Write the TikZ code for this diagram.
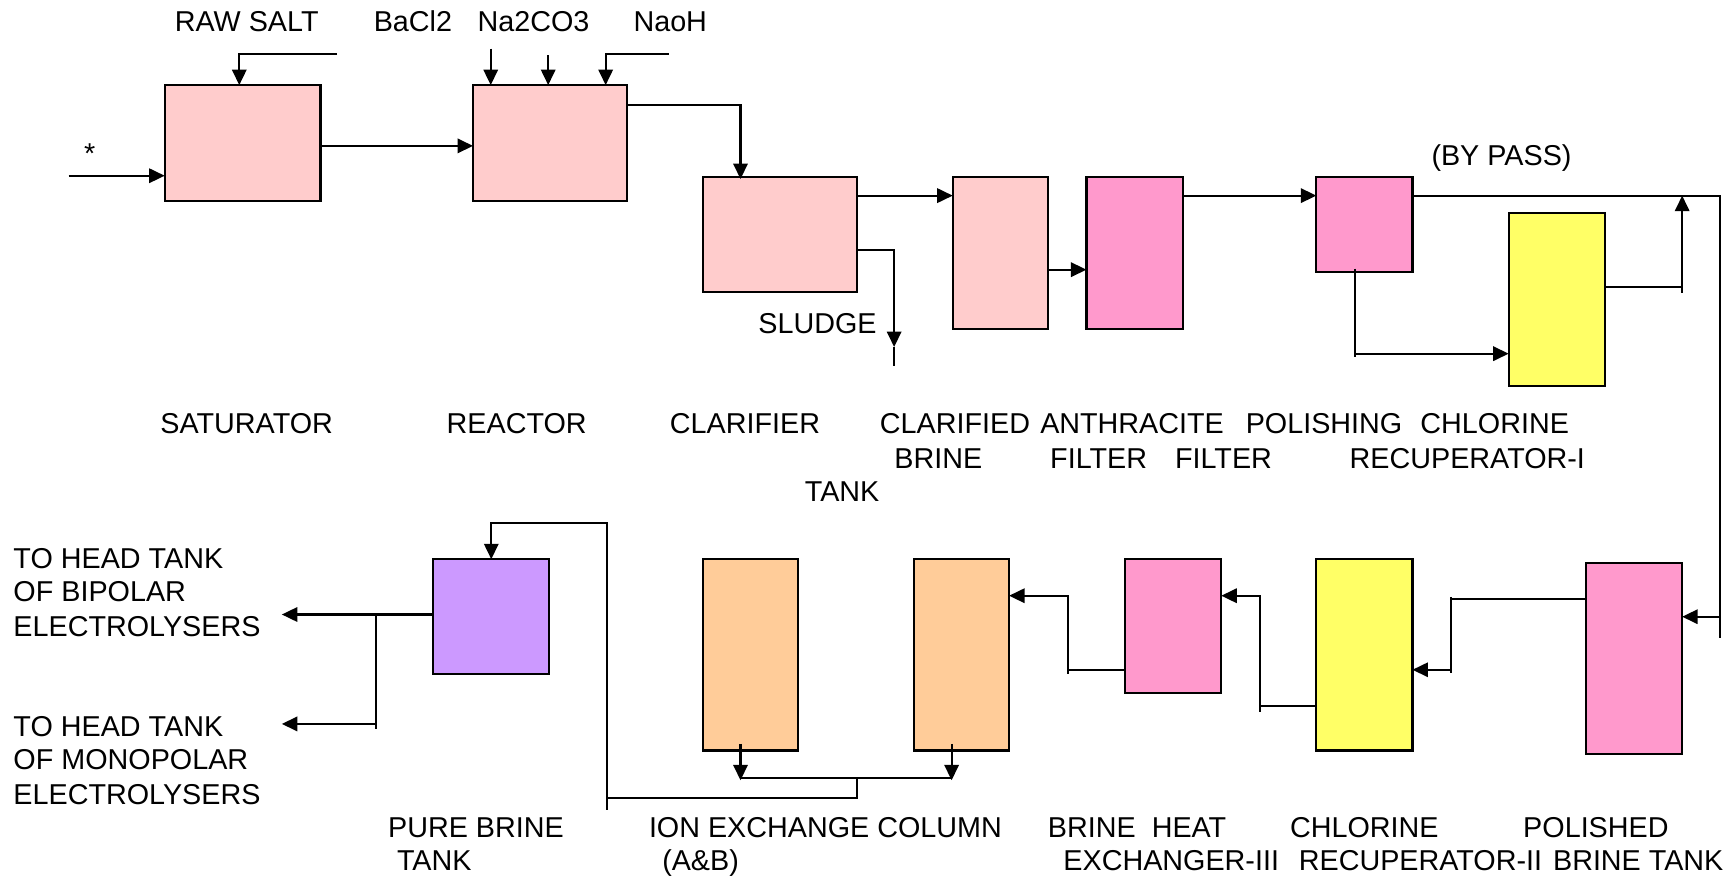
\documentclass[tikz,border=0pt]{standalone}
\usepackage{fontspec}
\setmainfont{Liberation Sans}
\usetikzlibrary{arrows.meta}
\definecolor{lpink}{HTML}{FFCCCC}
\definecolor{dpink}{HTML}{FF99CC}
\definecolor{yel}{HTML}{FFFF66}
\definecolor{vio}{HTML}{CC99FF}
\definecolor{ora}{HTML}{FFCC99}
\begin{document}
\begin{tikzpicture}[x=1pt,y=-1pt,
  box/.style={draw=black, line width=1.9pt, inner sep=0pt, outer sep=0pt, anchor=north west, rectangle},
  lbl/.style={font=\fontsize{26}{31}\selectfont, inner sep=0pt, anchor=base west},
  pipe/.style={draw=black, line width=1.9pt},
  arr/.style={pipe, -{Triangle[length=14pt,width=13pt]}}]
\useasboundingbox (0,0) rectangle (1568,794);
% boxes
\node[box, fill=lpink, minimum width=141pt, minimum height=105pt] (sat) at (149,77) {};
\node[box, fill=lpink, minimum width=139pt, minimum height=105pt] (react) at (428,77) {};
\node[box, fill=lpink, minimum width=139pt, minimum height=104pt] (clar) at (636,160) {};
\node[box, fill=lpink, minimum width=86pt, minimum height=138pt] (cbt) at (862,160) {};
\node[box, fill=dpink, minimum width=87pt, minimum height=138pt] (anth) at (983,160) {};
\node[box, fill=dpink, minimum width=87pt, minimum height=86pt] (pol) at (1191,160) {};
\node[box, fill=yel, minimum width=87pt, minimum height=156pt] (cr1) at (1365,193) {};
\node[box, fill=vio, minimum width=105pt, minimum height=104pt] (pbt) at (392,506) {};
\node[box, fill=ora, minimum width=86pt, minimum height=173pt] (ixa) at (636,506) {};
\node[box, fill=ora, minimum width=86pt, minimum height=173pt] (ixb) at (827,506) {};
\node[box, fill=dpink, minimum width=87pt, minimum height=121pt] (bhe) at (1018,506) {};
\node[box, fill=yel, minimum width=87pt, minimum height=173pt] (cr2) at (1191,506) {};
\node[box, fill=dpink, minimum width=87pt, minimum height=173pt] (pbk) at (1435,509) {};
% free-end coordinates
\coordinate (in) at (62,159);
\coordinate (rs) at (305,49);
\coordinate (ba) at (444,44);
\coordinate (na) at (496,50);
\coordinate (nh) at (605,49);
\coordinate (slA) at (809,314);
\coordinate (slB) at (809,331);
\coordinate (bpc) at (1556,177);
\coordinate (bpe) at (1556,577);
\coordinate (j1) at (1522,177);
\coordinate (mono) at (255,655);
\coordinate (bip) at (255,556);
% top row connectors
\draw[arr] (in) -- (in -| sat.west);
\draw[arr] (rs) -| ([xshift=-3pt]sat.north);
\draw[arr] (sat.east |- 0,132) -- (react.west |- 0,132);
\draw[arr] (ba) -- (ba |- react.north);
\draw[arr] (na) -- (na |- react.north);
\draw[arr] (nh) -| ([xshift=-19pt]react.north east);
\draw[arr] (react.east |- 0,95) -| ([xshift=34pt,yshift=-2pt]clar.north west);
\draw[arr] (clar.east |- 0,177) -- (cbt.west |- 0,177);
\draw[arr] (clar.east |- 0,226) -| (slA);
\draw[pipe] (slA) -- (slB);
\draw[arr] (cbt.east |- 0,244) -- (anth.west |- 0,244);
\draw[arr] (anth.east |- 0,177) -- (pol.west |- 0,177);
\draw[pipe] (pol.east |- 0,177) -- (bpc) -- (bpe);
\draw[arr] ([xshift=35pt,yshift=3pt]pol.south west) |- (cr1.west |- 0,320);
\draw[pipe] (1226,319) -- (1226,323);
\draw[arr] (cr1.east |- 0,260) -| (j1);
\draw[pipe] (1522,259) -- (1522,265);
% bottom row connectors
\draw[arr] (bpe |- 0,558) -- (pbk.east |- 0,558);
\draw[arr] (pbk.west |- 0,542) -| (1313,606) -- (cr2.east |- 0,606);
\draw[pipe] (1313,540) -- (1313,609);
\draw[arr] (cr2.west |- 0,639) -| (1140,539) -- (bhe.east |- 0,539);
\draw[pipe] (1140,638) -- (1140,644);
\draw[arr] (bhe.west |- 0,606) -| (966,539) -- (ixb.east |- 0,539);
\draw[pipe] (966,605) -- (966,610);
\draw[arr] ([xshift=-9pt,yshift=6pt]ixa.south) -- ([xshift=-9pt,yshift=-27pt]ixa.south);
\draw[arr] ([xshift=-9pt,yshift=6pt]ixb.south) -- ([xshift=-9pt,yshift=-27pt]ixb.south);
\draw[pipe] (670,704) -- (861,704);
\draw[arr] (775,704) -- (775,722) -- (549,722) -- (549,473) -| (pbt.north);
\draw[pipe] (549,721) -- (549,733);
\draw[arr] (pbt.west |- 0,556) -- (bip);
\draw[pipe] (340,556) -- (340,660);
\draw[arr] (340,655) -- (mono);
% labels
\node[lbl] (t1) at (158,28.5) {RAW SALT};
\node[lbl] (t2) at (338,28.5) {BaCl2};
\node[lbl] (t3) at (432,28.5) {Na2CO3};
\node[lbl] (t4) at (573,28.5) {NaoH};
\node[lbl] (t5) at (76,148) {*};
\node[lbl] (t6) at (1295,149.5) {(BY PASS)};
\node[lbl] (t7) at (686,301.5) {SLUDGE};
\node[lbl] (r1) at (145,392.5) {SATURATOR};
\node[lbl] (r2) at (404,392.5) {REACTOR};
\node[lbl] (r3) at (606,392.5) {CLARIFIER};
\node[lbl] (r4) at (796,392.5) {CLARIFIED};
\node[lbl] (r5) at (941,392.5) {ANTHRACITE};
\node[lbl] (r6) at (1127,392.5) {POLISHING};
\node[lbl] (r7) at (1285,392.5) {CHLORINE};
\node[lbl] (r8) at (809,423.5) {BRINE};
\node[lbl] (r9) at (950,423.5) {FILTER};
\node[lbl] (r10) at (1063,423.5) {FILTER};
\node[lbl] (r11) at (1221,423.5) {RECUPERATOR-I};
\node[lbl] (r12) at (728,453.5) {TANK};
\node[lbl] (l1) at (12,514.5) {TO HEAD TANK};
\node[lbl] (l2) at (12,544.5) {OF BIPOLAR};
\node[lbl] (l3) at (12,575.5) {ELECTROLYSERS};
\node[lbl] (l4) at (12,666.5) {TO HEAD TANK};
\node[lbl] (l5) at (12,696.5) {OF MONOPOLAR};
\node[lbl] (l6) at (12,727.5) {ELECTROLYSERS};
\node[lbl] (b1) at (351,757.5) {PURE BRINE};
\node[lbl] (b2) at (359,787.5) {TANK};
\node[lbl] (b3) at (587,757.5) {ION EXCHANGE COLUMN};
\node[lbl] (b4) at (599,787.5) {(A\&B)};
\node[lbl] (b5) at (948,757.5) {BRINE~~HEAT};
\node[lbl] (b6) at (962,787.5) {EXCHANGER-III};
\node[lbl] (b7) at (1167,757.5) {CHLORINE};
\node[lbl] (b8) at (1175,787.5) {RECUPERATOR-II};
\node[lbl] (b9) at (1378,757.5) {POLISHED};
\node[lbl] (b10) at (1405,787.5) {BRINE TANK};
\end{tikzpicture}
\end{document}
